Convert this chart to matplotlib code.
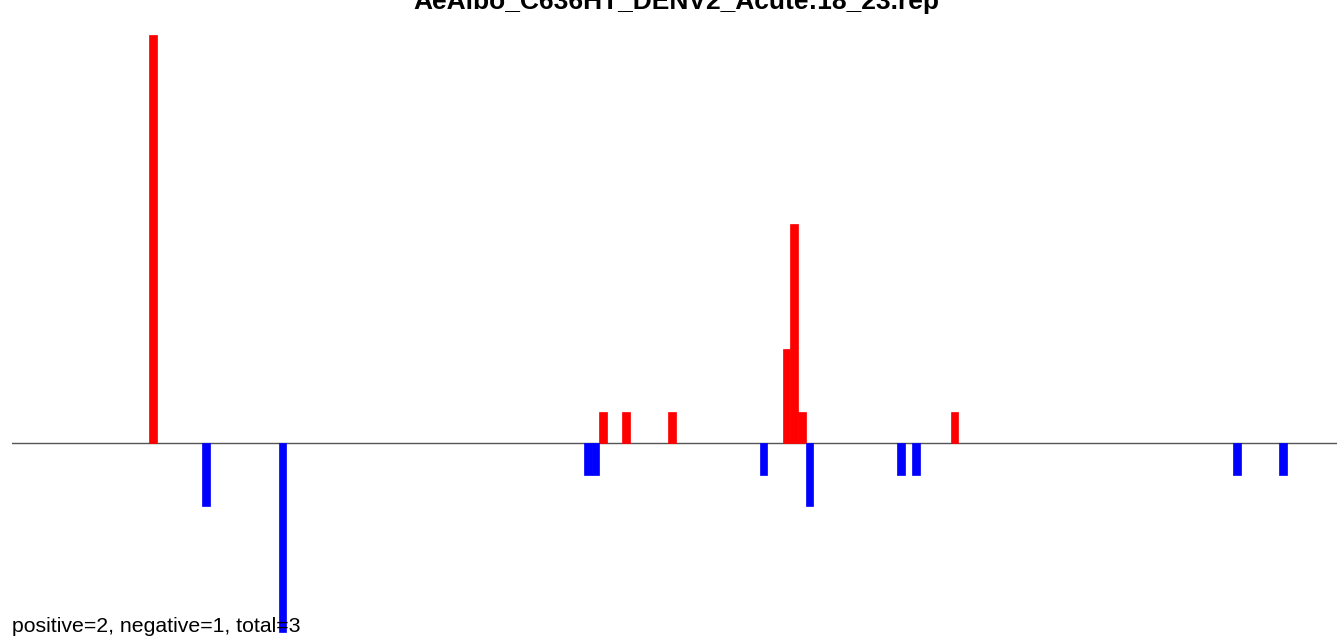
import matplotlib
matplotlib.use("Agg")
import matplotlib.pyplot as plt

title = "AeAlbo_C636HT_DENV2_Acute:18_23.rep"
summary = "positive=2, negative=1, total=3"

pos_bins = [0, 59, 62, 68, 83, 84, 85, 105]
pos_vals = [13, 1, 1, 1, 3, 7, 1, 1]
neg_bins = [7, 17, 57, 58, 80, 86, 98, 100, 142, 148]
neg_vals = [-2, -6, -1, -1, -1, -2, -1, -1, -1, -1]

W, H = 1337, 638
fig = plt.figure(figsize=(W / 100, H / 100), dpi=100)
ax = fig.add_axes([12 / W, (H - 632) / H, (W - 12) / W, (632 - 35) / H])

step = 7.635
ax.set_xlim((12 - 149) / step, (W - 149) / step)
ax.set_ylim(-6, 13)

ax.bar(pos_bins, pos_vals, width=1.0, align="edge", color="#ff0000",
       edgecolor="#ff0000", linewidth=0.5, clip_on=False, zorder=2)
ax.bar(neg_bins, neg_vals, width=1.0, align="edge", color="#0000ff",
       edgecolor="#0000ff", linewidth=0.5, clip_on=False, zorder=2)
ax.axhline(0, color="#555555", linewidth=1.0, zorder=1)
ax.axis("off")

fig.text(676 / W, (H - 9) / H, title, ha="center", va="baseline",
         fontsize=19, fontweight="bold", family="Liberation Sans")
fig.text(12 / W, (H - 632) / H, summary, ha="left", va="baseline",
         fontsize=15.3, family="Liberation Sans", zorder=1)

fig.savefig("out.png", dpi=100)
